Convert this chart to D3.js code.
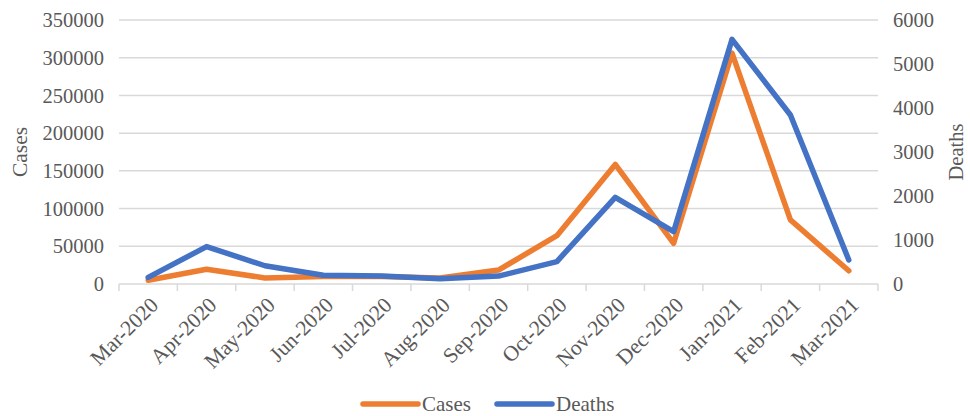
<!DOCTYPE html>
<html>
<head>
<meta charset="utf-8">
<script src="https://cdn.jsdelivr.net/npm/d3@7"></script>
<style>
  body { margin: 0; background: #fff; }
  text { font-family: "Liberation Serif", "DejaVu Serif", serif; fill: #595959; }
</style>
</head>
<body>
<svg id="chart" width="970" height="416"></svg>
<script>
// ----- DATA -----
var months = ['Mar-2020', 'Apr-2020', 'May-2020', 'Jun-2020', 'Jul-2020', 'Aug-2020', 'Sep-2020',
              'Oct-2020', 'Nov-2020', 'Dec-2020', 'Jan-2021', 'Feb-2021', 'Mar-2021'];
var cases  = [5000, 19500, 8000, 10000, 10000, 8000, 18500, 64000, 158500, 54000, 306000, 85000, 17500];
var deaths = [150, 850, 415, 200, 180, 120, 180, 510, 1970, 1190, 5560, 3840, 545];
var casesTicks  = [0, 50000, 100000, 150000, 200000, 250000, 300000, 350000];
var deathsTicks = [0, 1000, 2000, 3000, 4000, 5000, 6000];

// ----- LAYOUT -----
var LEFT = 119, RIGHT = 878, TOP = 20, BOTTOM = 284,
    ORANGE = '#ED7D31', BLUE = '#4472C4', GRID = '#d9d9d9',
    FONT = 20.5, XFONT = 21.5, LEGEND_FONT = 21;

var svg = d3.select('#chart');

var x = d3.scaleBand().domain(months).range([LEFT, RIGHT]);
var yCases = d3.scaleLinear().domain([0, 350000]).range([BOTTOM, TOP]);
var yDeaths = d3.scaleLinear().domain([0, 6000]).range([BOTTOM, TOP]);

// gridlines
svg.append('g')
    .selectAll('line')
    .data(casesTicks.slice(1)).enter()
    .append('line')
        .attr('x1', LEFT).attr('x2', RIGHT)
        .attr('y1', function (d) { return yCases(d); })
        .attr('y2', function (d) { return yCases(d); })
        .attr('stroke', GRID).attr('stroke-width', 1.5);

// x axis line + ticks at band edges
svg.append('line')
    .attr('x1', LEFT).attr('x2', RIGHT).attr('y1', BOTTOM).attr('y2', BOTTOM)
    .attr('stroke', GRID).attr('stroke-width', 1.5);
svg.append('g')
    .selectAll('line')
    .data(months.concat(['end'])).enter()
    .append('line')
        .attr('x1', function (d, i) { return LEFT + i * x.step(); })
        .attr('x2', function (d, i) { return LEFT + i * x.step(); })
        .attr('y1', BOTTOM).attr('y2', BOTTOM + 7)
        .attr('stroke', GRID).attr('stroke-width', 1.5);

// left axis labels
svg.append('g')
    .selectAll('text')
    .data(casesTicks).enter()
    .append('text')
        .attr('x', 104)
        .attr('y', function (d) { return yCases(d); })
        .attr('dy', '0.35em')
        .attr('text-anchor', 'end')
        .attr('font-size', FONT)
        .text(function (d) { return d; });

// right axis labels
svg.append('g')
    .selectAll('text')
    .data(deathsTicks).enter()
    .append('text')
        .attr('x', 893)
        .attr('y', function (d) { return yDeaths(d); })
        .attr('dy', '0.35em')
        .attr('font-size', FONT)
        .text(function (d) { return d; });

// x labels, rotated
svg.append('g')
    .selectAll('text')
    .data(months).enter()
    .append('text')
        .attr('transform', function (d) {
            return 'translate(' + (x(d) + x.bandwidth() / 2 + 6) + ',' + (BOTTOM + 17) + ') rotate(-45)';
        })
        .attr('text-anchor', 'end')
        .attr('dy', '0.35em')
        .attr('font-size', XFONT)
        .text(function (d) { return d; });

// axis titles
svg.append('text')
    .attr('transform', 'translate(19,152) rotate(-90)')
    .attr('text-anchor', 'middle').attr('dy', '0.35em')
    .attr('font-size', XFONT)
    .text('Cases');
svg.append('text')
    .attr('transform', 'translate(956,152) rotate(-90)')
    .attr('text-anchor', 'middle').attr('dy', '0.35em')
    .attr('font-size', 20.5)
    .text('Deaths');

// lines
function cx(d, i) { return x(months[i]) + x.bandwidth() / 2; }

svg.append('path')
    .datum(cases)
    .attr('fill', 'none').attr('stroke', ORANGE).attr('stroke-width', 5.5)
    .attr('stroke-linejoin', 'round').attr('stroke-linecap', 'round')
    .attr('d', d3.line().x(cx).y(function (d) { return yCases(d); }));

svg.append('path')
    .datum(deaths)
    .attr('fill', 'none').attr('stroke', BLUE).attr('stroke-width', 5.5)
    .attr('stroke-linejoin', 'round').attr('stroke-linecap', 'round')
    .attr('d', d3.line().x(cx).y(function (d) { return yDeaths(d); }));

// legend
var legend = [
    { name: 'Cases', color: ORANGE, x: 363 },
    { name: 'Deaths', color: BLUE, x: 497 }
];
var lg = svg.append('g')
    .selectAll('g')
    .data(legend).enter()
    .append('g')
        .attr('transform', function (d) { return 'translate(' + d.x + ',404)'; });
lg.append('line')
    .attr('x1', 0).attr('x2', 55)
    .attr('stroke', function (d) { return d.color; })
    .attr('stroke-width', 5.5).attr('stroke-linecap', 'round');
lg.append('text')
    .attr('x', 59).attr('dy', '0.35em')
    .attr('font-size', LEGEND_FONT)
    .text(function (d) { return d.name; });
</script>
</body>
</html>
